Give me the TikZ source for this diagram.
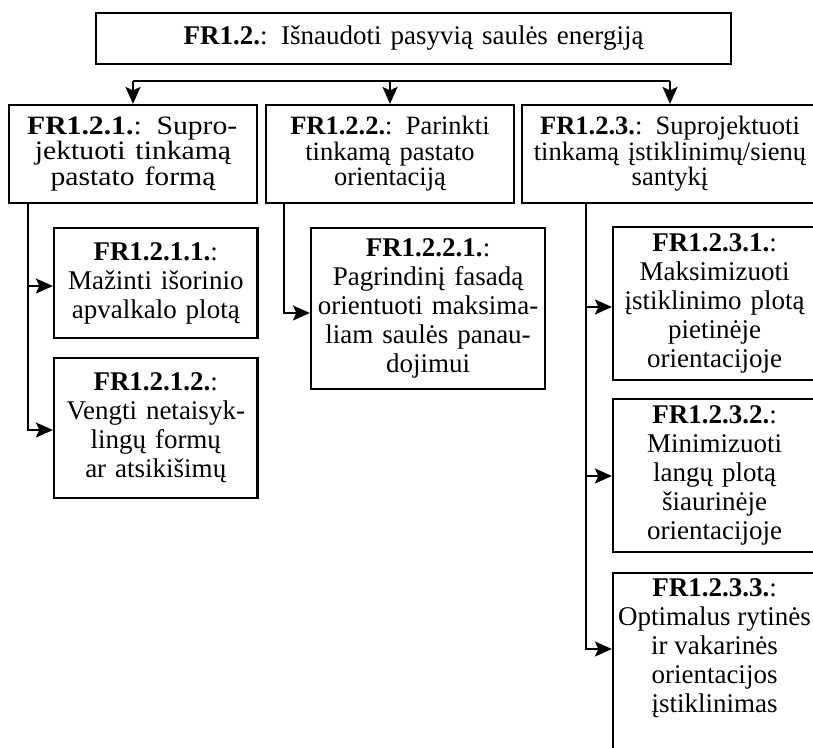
\documentclass[tikz,border=0pt]{standalone}
\usepackage{fontspec}
\usepackage{graphicx}
\setmainfont{Liberation Serif}
\usetikzlibrary{arrows.meta}
\newcommand\boxfont{\fontsize{27}{29}\selectfont\lineskiplimit=-30pt\relax}
\newcommand\lvltwofont{\fontsize{26.5}{25.5}\selectfont\lineskiplimit=-30pt\relax}
\newcommand\wide[1]{\scalebox{1.12}[1]{#1}}
\begin{document}
\begin{tikzpicture}[x=1pt,y=-1pt,
  box/.style={draw, line width=2.2pt, inner sep=0pt, align=center, font=\boxfont},
  lvltwo/.style={box, font=\lvltwofont},
  con/.style={line width=1.9pt},
  arr/.style={con, -{Stealth[length=17pt,width=15pt,inset=3.5pt]}}]
\useasboundingbox (0,0) rectangle (813,747);
\fill[white] (0,0) rectangle (813,747);
\clip (0,0) rectangle (813,747);
% top
\node[box, minimum width=635pt, minimum height=51pt, text width=620pt] (top) at (413.5,38.5)
  {\textbf{FR1.2.}: Išnaudoti pasyvią saulės energiją};
% level 2
\node[lvltwo, minimum width=248pt, minimum height=98pt, text width=240pt] (l1) at (133,154)
  {\wide{\makebox[189pt][s]{\textbf{FR1.2.1.}: Supro-}}\\\wide{jektuoti tinkamą}\\\wide{pastato formą}};
\node[lvltwo, minimum width=248pt, minimum height=98pt, text width=240pt] (l2) at (390,154)
  {\textbf{FR1.2.2.}: Parinkti\\tinkamą pastato\\orientaciją};
\node[lvltwo, minimum width=296pt, minimum height=98pt, text width=290pt] (l3) at (670,154)
  {\textbf{FR1.2.3.}: Suprojektuoti\\tinkamą įstiklinimų/sienų\\santykį};
% level 3
\node[box, minimum width=203.5pt, minimum height=110pt, text width=198pt] (a1) at (155.75,283)
  {\textbf{FR1.2.1.1.}:\\Mažinti išorinio\\apvalkalo plotą};
\node[box, minimum width=203.5pt, minimum height=140pt, text width=198pt] (a2) at (155.75,428)
  {\textbf{FR1.2.1.2.}:\\Vengti netaisyk-\\lingų formų\\ar atsikišimų};
\node[box, minimum width=234pt, minimum height=161pt, text width=228pt] (b1) at (428,308.5)
  {\textbf{FR1.2.2.1.}:\\Pagrindinį fasadą\\orientuoti maksima-\\liam saulės panau-\\dojimui};
\node[box, minimum width=203pt, minimum height=153pt, text width=200pt] (c1) at (714.5,303.5)
  {\textbf{FR1.2.3.1.}:\\Maksimizuoti\\įstiklinimo plotą\\pietinėje\\orientacijoje};
\node[box, minimum width=203pt, minimum height=153pt, text width=200pt] (c2) at (714.5,475.5)
  {\textbf{FR1.2.3.2.}:\\Minimizuoti\\langų plotą\\šiaurinėje\\orientacijoje};
\node[box, minimum width=203pt, minimum height=190pt] (c3) at (714.5,668)
  {\parbox[c][178pt][t]{200pt}{\centering\textbf{FR1.2.3.3.}:\\Optimalus rytinės\\ir vakarinės\\orientacijos\\įstiklinimas}};
% bus
\coordinate (bus) at (0,81);
\draw[con] (l1.north |- bus) -- (l3.north |- bus);
\draw[arr] (l1.north |- bus) -- (l1.north);
\draw[arr] (l2.north |- bus) -- (l2.north);
\draw[arr] (l3.north |- bus) -- (l3.north);
% drops
\draw[arr] ([xshift=20pt]l1.south west) |- ([yshift=-3pt]a1.west);
\draw[arr] ([xshift=20pt]l1.south west) |- ([yshift=-2pt]a2.west);
\draw[arr] ([xshift=19pt]l2.south west) |- ([yshift=-4.5pt]b1.west);
\draw[arr] ([xshift=65pt]l3.south west) |- ([yshift=-3.5pt]c1.west);
\draw[arr] ([xshift=65pt]l3.south west) |- ([yshift=-0.5pt]c2.west);
\draw[arr] ([xshift=65pt]l3.south west) |- ([yshift=19pt]c3.west);
\end{tikzpicture}
\end{document}
